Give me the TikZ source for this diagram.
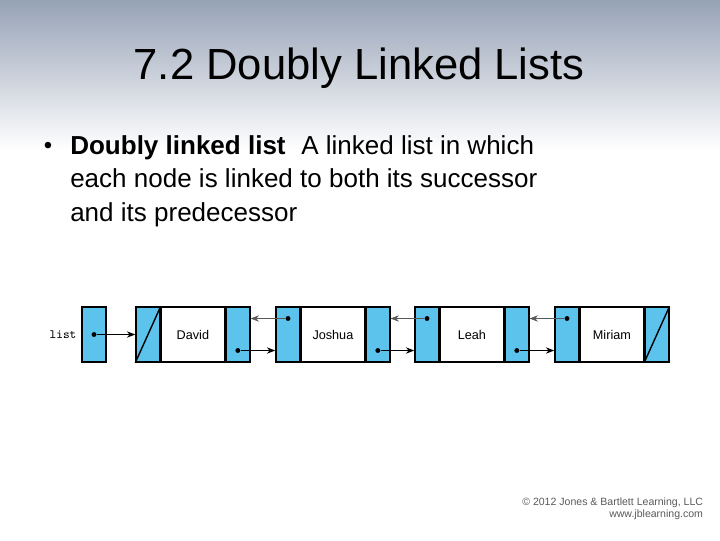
\documentclass[tikz,border=0pt]{standalone}
\usepackage{fontspec}
\setmainfont{Liberation Sans}
\usetikzlibrary{arrows.meta}
\definecolor{cellblue}{RGB}{92,196,236}
\definecolor{bgtop}{RGB}{150,162,182}
\begin{document}
\begin{tikzpicture}[
  x=0.025cm, y=-0.025cm,
  cell/.style={rectangle, draw, line width=1pt, fill=cellblue, minimum width=0.6cm, minimum height=1.375cm, inner sep=0pt},
  datacell/.style={rectangle, draw, line width=1pt, fill=white, minimum width=1.575cm, minimum height=1.375cm, inner sep=0pt, font=\fontsize{9}{10}\selectfont},
  dot/.style={circle, fill, inner sep=0pt, minimum size=3.5pt},
  fwd/.style={-{Stealth[length=6pt]}, thick},
  bwd/.style={-{Stealth[length=6pt]}, gray!70!black, thin}
]
\useasboundingbox (0,0) rectangle (720,540);
\shade[top color=bgtop, bottom color=white] (0,0) rectangle (720,150);

\node[font=\fontsize{31}{36}\selectfont] (title) at (359,68) {7.2 Doubly Linked Lists};
\node[font=\fontsize{17}{22}\selectfont] (bullet) at (48,148) {•};
\node[anchor=north west, inner sep=0pt, font=\fontsize{18.5}{24}\selectfont, align=left] (bullettext) at (70,135)
  {\textbf{Doubly linked list}\hspace{0.6em}A linked list in which\\
   each node is linked to both its successor\\
   and its predecessor};

% list pointer
\node[cell] (head) at (94,334.5) {};
\node[anchor=east, font=\ttfamily\fontsize{9}{10}\selectfont] (listlbl) at (head.west) {list};
\node[dot] (headdot) at (94,334.5) {};

% list nodes
\foreach \n/\x/\name in {1/148/David, 2/288/Joshua, 3/427/Leah, 4/567/Miriam}{
  \node[cell] (L\n) at (\x,334.5) {};
  \node[datacell, anchor=west] (D\n) at (L\n.east) {\name};
  \node[cell, anchor=west] (R\n) at (D\n.east) {};
}
\draw[line width=1pt] (L1.south west) -- (L1.north east);
\draw[line width=1pt] (R4.south west) -- (R4.north east);

\foreach \n in {1,2,3}{
  \node[dot] (fd\n) at ([yshift=-0.4cm]R\n.center) {};
}
\foreach \n in {2,3,4}{
  \node[dot] (bd\n) at ([yshift=0.4cm]L\n.center) {};
}

\draw[fwd] (headdot) -- (L1.west);
\draw[fwd] (fd1) -- (fd1 -| L2.west);
\draw[fwd] (fd2) -- (fd2 -| L3.west);
\draw[fwd] (fd3) -- (fd3 -| L4.west);
\draw[bwd] (bd2) -- (bd2 -| R1.east);
\draw[bwd] (bd3) -- (bd3 -| R2.east);
\draw[bwd] (bd4) -- (bd4 -| R3.east);

\node[anchor=south east, align=right, gray!70!black, font=\fontsize{7.5}{9}\selectfont] (copy) at (708,525)
  {\textcopyright{} 2012 Jones \& Bartlett Learning, LLC\\www.jblearning.com};
\end{tikzpicture}
\end{document}
